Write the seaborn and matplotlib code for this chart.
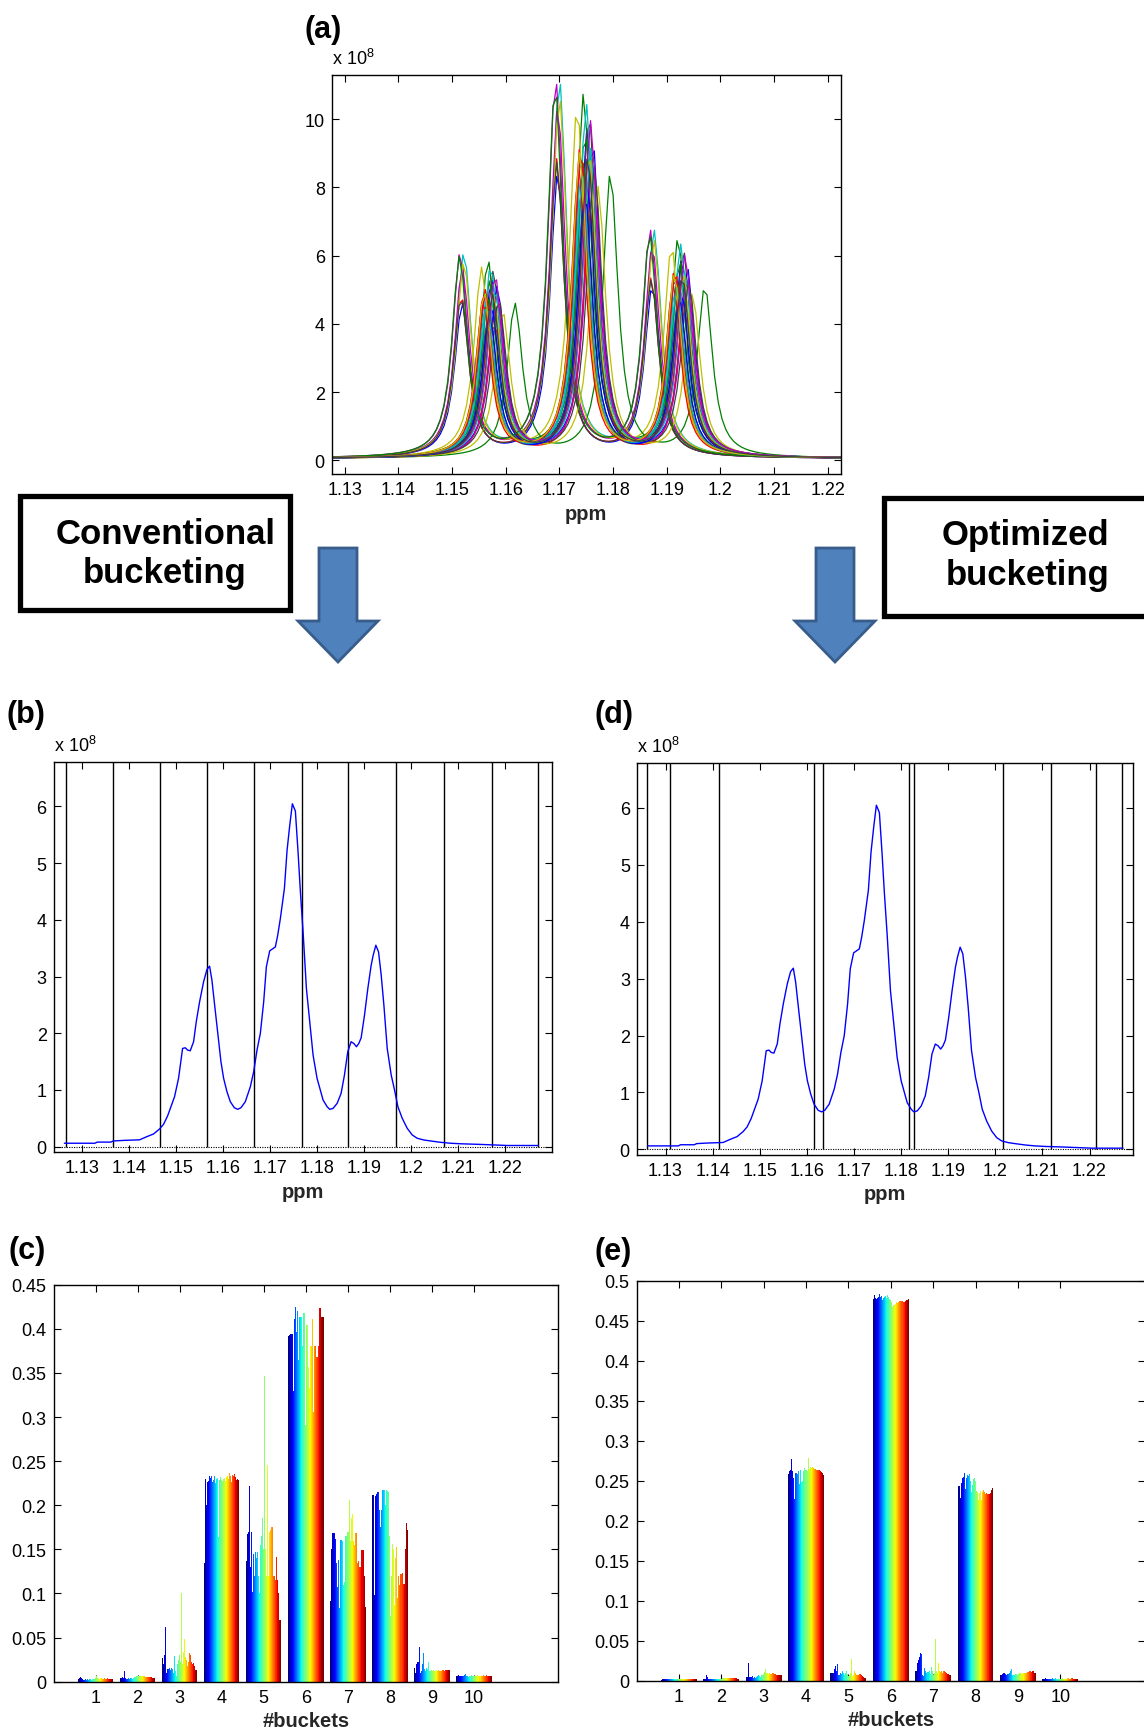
import numpy as np
import pandas as pd
import matplotlib
matplotlib.use("Agg")
import matplotlib.pyplot as plt
import seaborn as sns
from matplotlib.patches import Rectangle, Polygon

# ---------------------------------------------------------------- data
# (a) individual spectra: ppm of the middle line of each triplet and its height (x 1e8)
spec_centers = [1.1752, 1.1745, 1.1738, 1.1700, 1.1693, 1.1733, 1.1755, 1.1697, 1.1795, 1.1695,
                1.1742, 1.1697, 1.1700, 1.1695, 1.1762, 1.1748, 1.1757, 1.1750, 1.1762, 1.1772,
                1.1745, 1.1752, 1.1745, 1.1736, 1.1758, 1.1740, 1.1755, 1.1765, 1.1748, 1.1692,
                1.1740, 1.1743, 1.1758, 1.1738, 1.1753]
spec_heights = [9.6, 10.6, 9.0, 11.0, 11.0, 10.2, 10.0, 8.3, 8.3, 8.7,
                8.5, 10.2, 10.5, 8.6, 9.2, 9.5, 7.2, 10.3, 8.7, 7.9,
                7.4, 8.0, 8.6, 8.4, 9.0, 8.8, 8.9, 8.5, 7.6, 10.8,
                9.0, 8.2, 9.8, 8.9, 8.8]
triplet_offsets = [-0.0178, 0.0, 0.0176]
triplet_ratios = [0.54, 1.0, 0.60]
line_hwhm = 0.0017
spec_baseline = 0.05
line_colors = ["#0000FF", "#008000", "#FF0000", "#00BFBF", "#BF00BF", "#BFBF00", "#404040"]

# (b)/(d) mean spectrum (x 1e8)
mean_ppm = [1.1262, 1.1327, 1.1332, 1.1361, 1.1366, 1.1388, 1.1422,
            1.14376, 1.14518, 1.14646, 1.14731, 1.14817, 1.14966, 1.15051, 1.15137, 1.15194, 1.15243,
            1.1530, 1.15371, 1.15428, 1.15499, 1.15584, 1.15655, 1.15712, 1.15762, 1.15812, 1.15883,
            1.15954, 1.16011, 1.16082, 1.16153, 1.16238, 1.16310, 1.16381, 1.16473, 1.16580, 1.16651,
            1.16722, 1.16793, 1.16864, 1.16921, 1.16992, 1.17063, 1.17113, 1.17163, 1.17219, 1.17305,
            1.17362, 1.17419, 1.17475, 1.17539, 1.17596, 1.17646, 1.17703, 1.17774, 1.17845, 1.17916,
            1.18001, 1.18129, 1.18214, 1.18271, 1.18342, 1.18428, 1.18513, 1.18584, 1.18655, 1.18726,
            1.18783, 1.18840, 1.18890, 1.18940, 1.19011, 1.19082, 1.19153, 1.19196, 1.19253, 1.19310,
            1.19367, 1.19424, 1.19495, 1.19580, 1.19651, 1.19722, 1.19815, 1.19921, 1.20028, 1.20135,
            1.20277, 1.20419, 1.20632,
            1.2084, 1.2107, 1.2145, 1.2176, 1.2206, 1.2271]
mean_int = [0.06, 0.06, 0.08, 0.08, 0.10, 0.11, 0.12,
            0.176, 0.223, 0.311, 0.393, 0.540, 0.881, 1.204, 1.732, 1.744, 1.703,
            1.691, 1.850, 2.202, 2.554, 2.907, 3.124, 3.183, 2.936, 2.554, 2.026,
            1.497, 1.204, 0.969, 0.793, 0.687, 0.658, 0.687, 0.793, 1.057, 1.321,
            1.703, 1.998, 2.554, 3.171, 3.453, 3.494, 3.523, 3.729, 4.022, 4.551,
            5.226, 5.667, 6.048, 5.919, 5.197, 4.492, 3.787, 2.789, 2.202, 1.615,
            1.204, 0.822, 0.705, 0.658, 0.675, 0.763, 0.940, 1.262, 1.674, 1.850,
            1.820, 1.762, 1.820, 1.920, 2.319, 2.789, 3.200, 3.376, 3.553, 3.435,
            3.024, 2.496, 1.732, 1.262, 0.998, 0.705, 0.499, 0.323, 0.206, 0.147,
            0.117, 0.100, 0.076,
            0.06, 0.05, 0.04, 0.03, 0.02, 0.02]

# bucket boundaries (ppm)
conv_edges = [1.1265, 1.1365, 1.1465, 1.1565, 1.1666, 1.1767, 1.1867, 1.1969, 1.2070, 1.2172, 1.2270]
opt_edges = [1.1260, 1.1310, 1.1413, 1.1615, 1.1634, 1.1816, 1.1827, 1.2017, 1.2119, 1.2214, 1.2269]

bucket_ids = list(range(1, 11))

# (c) conventional buckets: normalised area per sample
conv_buckets = [
    [0.003, 0.004, 0.005, 0.004, 0.003, 0.002, 0.002, 0.003, 0.002, 0.003,
     0.002, 0.003, 0.003, 0.002, 0.003, 0.003, 0.003, 0.004, 0.006, 0.004,
     0.004, 0.003, 0.004, 0.004, 0.003, 0.003, 0.004, 0.003, 0.003, 0.004,
     0.003, 0.003, 0.003, 0.003, 0.003],
    [0.004, 0.004, 0.005, 0.004, 0.012, 0.004, 0.003, 0.003, 0.004, 0.003,
     0.004, 0.004, 0.003, 0.004, 0.005, 0.005, 0.006, 0.006, 0.007, 0.006,
     0.007, 0.006, 0.006, 0.006, 0.006, 0.005, 0.005, 0.005, 0.005, 0.005,
     0.005, 0.005, 0.004, 0.004, 0.004],
    [0.027, 0.020, 0.030, 0.062, 0.010, 0.014, 0.014, 0.015, 0.013, 0.015,
     0.014, 0.010, 0.029, 0.012, 0.007, 0.020, 0.025, 0.030, 0.022, 0.101,
     0.020, 0.034, 0.048, 0.028, 0.025, 0.018, 0.022, 0.033, 0.030, 0.022,
     0.020, 0.021, 0.018, 0.013, 0.013],
    [0.135, 0.230, 0.200, 0.226, 0.227, 0.233, 0.231, 0.233, 0.226, 0.229,
     0.233, 0.225, 0.230, 0.231, 0.164, 0.229, 0.232, 0.229, 0.228, 0.230,
     0.231, 0.228, 0.232, 0.233, 0.230, 0.237, 0.233, 0.226, 0.234, 0.233,
     0.235, 0.232, 0.229, 0.230, 0.229],
    [0.137, 0.167, 0.170, 0.222, 0.130, 0.170, 0.102, 0.145, 0.120, 0.147,
     0.140, 0.147, 0.120, 0.100, 0.155, 0.165, 0.185, 0.150, 0.346, 0.150,
     0.120, 0.246, 0.120, 0.170, 0.172, 0.175, 0.175, 0.120, 0.120, 0.115,
     0.141, 0.115, 0.100, 0.070, 0.070],
    [0.392, 0.393, 0.394, 0.394, 0.394, 0.330, 0.411, 0.425, 0.396, 0.420,
     0.365, 0.413, 0.413, 0.413, 0.380, 0.418, 0.418, 0.291, 0.404, 0.404,
     0.357, 0.333, 0.380, 0.380, 0.411, 0.306, 0.381, 0.381, 0.368, 0.368,
     0.381, 0.424, 0.424, 0.413, 0.413],
    [0.092, 0.150, 0.169, 0.169, 0.168, 0.162, 0.135, 0.107, 0.138, 0.084,
     0.161, 0.161, 0.160, 0.110, 0.113, 0.165, 0.165, 0.170, 0.170, 0.206,
     0.160, 0.185, 0.190, 0.160, 0.155, 0.168, 0.168, 0.135, 0.137, 0.130,
     0.130, 0.149, 0.149, 0.120, 0.085],
    [0.212, 0.212, 0.098, 0.210, 0.213, 0.215, 0.215, 0.195, 0.175, 0.195,
     0.217, 0.217, 0.217, 0.200, 0.217, 0.216, 0.215, 0.165, 0.075, 0.120,
     0.156, 0.150, 0.087, 0.140, 0.153, 0.095, 0.120, 0.110, 0.122, 0.123,
     0.111, 0.111, 0.150, 0.180, 0.172],
    [0.016, 0.010, 0.020, 0.022, 0.022, 0.039, 0.010, 0.012, 0.020, 0.033,
     0.014, 0.012, 0.015, 0.014, 0.022, 0.012, 0.012, 0.013, 0.012, 0.013,
     0.012, 0.012, 0.013, 0.012, 0.013, 0.012, 0.012, 0.013, 0.013, 0.012,
     0.013, 0.013, 0.013, 0.013, 0.013],
    [0.006, 0.007, 0.008, 0.006, 0.006, 0.006, 0.007, 0.006, 0.008, 0.009,
     0.007, 0.006, 0.005, 0.006, 0.007, 0.008, 0.007, 0.007, 0.006, 0.007,
     0.007, 0.008, 0.007, 0.007, 0.007, 0.007, 0.008, 0.007, 0.007, 0.008,
     0.007, 0.007, 0.007, 0.007, 0.007],
]

# (e) optimised buckets: normalised area per sample
opt_buckets = [
    [0.001, 0.002, 0.002, 0.003, 0.002, 0.002, 0.002, 0.002, 0.002, 0.002,
     0.002, 0.002, 0.002, 0.002, 0.002, 0.002, 0.002, 0.002, 0.003, 0.002,
     0.002, 0.002, 0.002, 0.002, 0.002, 0.002, 0.002, 0.003, 0.002, 0.002,
     0.002, 0.002, 0.002, 0.002, 0.002],
    [0.002, 0.003, 0.003, 0.007, 0.005, 0.002, 0.003, 0.003, 0.003, 0.003,
     0.003, 0.003, 0.003, 0.003, 0.003, 0.003, 0.003, 0.003, 0.004, 0.004,
     0.004, 0.004, 0.004, 0.004, 0.004, 0.004, 0.004, 0.004, 0.004, 0.004,
     0.004, 0.004, 0.004, 0.003, 0.003],
    [0.005, 0.005, 0.022, 0.005, 0.005, 0.005, 0.006, 0.004, 0.005, 0.004,
     0.005, 0.006, 0.007, 0.006, 0.005, 0.008, 0.008, 0.009, 0.011, 0.015,
     0.010, 0.010, 0.009, 0.010, 0.009, 0.009, 0.010, 0.010, 0.009, 0.009,
     0.008, 0.008, 0.008, 0.007, 0.007],
    [0.258, 0.262, 0.263, 0.277, 0.262, 0.254, 0.227, 0.260, 0.260, 0.259,
     0.262, 0.246, 0.264, 0.248, 0.250, 0.262, 0.266, 0.264, 0.262, 0.278,
     0.265, 0.267, 0.266, 0.267, 0.266, 0.265, 0.265, 0.264, 0.264, 0.263,
     0.263, 0.262, 0.261, 0.260, 0.257],
    [0.010, 0.010, 0.010, 0.015, 0.019, 0.012, 0.021, 0.007, 0.008, 0.010,
     0.009, 0.013, 0.010, 0.008, 0.010, 0.013, 0.009, 0.006, 0.008, 0.010,
     0.027, 0.006, 0.008, 0.013, 0.010, 0.008, 0.007, 0.008, 0.009, 0.009,
     0.007, 0.006, 0.005, 0.004, 0.004],
    [0.477, 0.482, 0.478, 0.477, 0.479, 0.480, 0.483, 0.480, 0.481, 0.476,
     0.479, 0.480, 0.481, 0.479, 0.482, 0.480, 0.477, 0.476, 0.474, 0.467,
     0.470, 0.470, 0.471, 0.473, 0.472, 0.473, 0.475, 0.475, 0.475, 0.474,
     0.473, 0.475, 0.476, 0.476, 0.477],
    [0.012, 0.012, 0.022, 0.026, 0.030, 0.035, 0.034, 0.008, 0.006, 0.016,
     0.012, 0.010, 0.011, 0.012, 0.009, 0.018, 0.012, 0.007, 0.010, 0.052,
     0.012, 0.010, 0.022, 0.012, 0.011, 0.012, 0.010, 0.013, 0.012, 0.011,
     0.010, 0.009, 0.009, 0.008, 0.007],
    [0.243, 0.243, 0.229, 0.247, 0.253, 0.255, 0.260, 0.240, 0.254, 0.257,
     0.256, 0.258, 0.250, 0.236, 0.245, 0.252, 0.253, 0.250, 0.237, 0.236,
     0.226, 0.235, 0.237, 0.226, 0.236, 0.238, 0.236, 0.234, 0.235, 0.234,
     0.233, 0.233, 0.235, 0.238, 0.241],
    [0.007, 0.008, 0.009, 0.010, 0.010, 0.009, 0.008, 0.009, 0.009, 0.010,
     0.012, 0.015, 0.007, 0.008, 0.008, 0.009, 0.009, 0.008, 0.009, 0.010,
     0.010, 0.009, 0.010, 0.010, 0.010, 0.010, 0.011, 0.011, 0.012, 0.012,
     0.011, 0.012, 0.012, 0.010, 0.010],
    [0.003, 0.003, 0.003, 0.004, 0.003, 0.003, 0.003, 0.003, 0.003, 0.004,
     0.003, 0.003, 0.004, 0.003, 0.003, 0.003, 0.003, 0.003, 0.003, 0.004,
     0.003, 0.003, 0.003, 0.003, 0.004, 0.004, 0.003, 0.003, 0.004, 0.004,
     0.003, 0.003, 0.003, 0.003, 0.003],
]

ppm_ticks = [1.13, 1.14, 1.15, 1.16, 1.17, 1.18, 1.19, 1.20, 1.21, 1.22]

# ---------------------------------------------------------------- style
sns.set_theme(style="ticks")
FONT = ["Liberation Sans", "DejaVu Sans"]
plt.rcParams.update({
    "font.family": FONT,
    "mathtext.fontset": "custom",
    "mathtext.rm": "Liberation Sans",
    "mathtext.it": "Liberation Sans:italic",
    "mathtext.bf": "Liberation Sans:bold",
    "axes.edgecolor": "black",
    "axes.linewidth": 1.0,
    "xtick.color": "black",
    "ytick.color": "black",
    "text.color": "black",
})

W, H = 1144, 1733
fig = plt.figure(figsize=(W / 100, H / 100), dpi=100)


def rect(left, top, right, bottom):
    return [left / W, 1 - bottom / H, (right - left) / W, (bottom - top) / H]


def fig_pt(x, y):
    return (x / W, 1 - y / H)


def style_axes(ax):
    ax.tick_params(direction="in", length=5, width=0.8, top=True, right=True,
                   labelsize=13, pad=5)
    for s in ax.spines.values():
        s.set_visible(True)
        s.set_linewidth(1.0)
        s.set_color("black")


def fmt(v):
    return f"{v:g}"


def exponent_label(ax):
    ax.annotate(r"x 10$^{8}$", xy=(0, 1), xycoords="axes fraction",
                xytext=(0, 5), textcoords="offset points",
                ha="left", va="bottom", fontsize=13)


ax_a = fig.add_axes(rect(331.8, 76, 840.7, 475))
ax_b = fig.add_axes(rect(53.6, 762.7, 551.8, 1153.3))
ax_d = fig.add_axes(rect(636.8, 764, 1132.9, 1156))
ax_c = fig.add_axes(rect(53.5, 1285.7, 558, 1682.7))
ax_e = fig.add_axes(rect(636.5, 1281.7, 1145, 1682))

# ---------------------------------------------------------------- (a) raw spectra
grid = np.arange(1.1268, 1.2232, 0.0007)
rows = []
for i, (c, h) in enumerate(zip(spec_centers, spec_heights)):
    y = np.full_like(grid, spec_baseline)
    for off, r in zip(triplet_offsets, triplet_ratios):
        y += h * r * line_hwhm ** 2 / ((grid - (c + off)) ** 2 + line_hwhm ** 2)
    rows.append(pd.DataFrame({"ppm": grid, "intensity": y, "spectrum": f"s{i:02d}"}))
spectra = pd.concat(rows, ignore_index=True)
names = [f"s{i:02d}" for i in range(len(spec_centers))]
palette_a = {n: line_colors[i % len(line_colors)] for i, n in enumerate(names)}
sns.lineplot(data=spectra, x="ppm", y="intensity", hue="spectrum", hue_order=names,
             palette=palette_a, estimator=None, lw=0.9, legend=False, ax=ax_a)
ax_a.set_xlim(1.1276, 1.2224)
ax_a.set_ylim(-0.4, 11.29)
ax_a.set_xticks(ppm_ticks)
ax_a.set_xticklabels([fmt(t) for t in ppm_ticks])
ax_a.set_yticks([0, 2, 4, 6, 8, 10])
ax_a.set_yticklabels(["0", "2", "4", "6", "8", "10"])
ax_a.set_xlabel("ppm", fontsize=14.5, fontweight="bold", labelpad=4)
ax_a.set_ylabel("")
style_axes(ax_a)
exponent_label(ax_a)

# ---------------------------------------------------------------- (b), (d) mean spectrum with buckets
for ax, edges, xr in ((ax_b, conv_edges, 1.2300), (ax_d, opt_edges, 1.2292)):
    ax.axhline(0, color="black", lw=0.8, ls=(0, (1, 1.2)), zorder=1)
    ax.vlines(edges, 0, 6.79, color="black", lw=1.0, zorder=2)
    sns.lineplot(x=mean_ppm, y=mean_int, color="#0000FF", lw=1.0, sort=False,
                 estimator=None, ax=ax, zorder=3)
    ax.set_xlim(1.1239, xr)
    ax.set_ylim(-0.1, 6.79)
    ax.set_xticks(ppm_ticks)
    ax.set_xticklabels([fmt(t) for t in ppm_ticks])
    ax.set_yticks(range(0, 7))
    ax.set_yticklabels([str(v) for v in range(0, 7)])
    ax.set_xlabel("ppm", fontsize=14.5, fontweight="bold", labelpad=4)
    ax.set_ylabel("")
    style_axes(ax)
    exponent_label(ax)

# ---------------------------------------------------------------- (c), (e) bucket tables
n_samples = len(conv_buckets[0])
sample_names = [f"p{i:02d}" for i in range(n_samples)]
jet = plt.get_cmap("jet")(np.linspace(0, 1, n_samples))
palette_bars = {n: jet[i] for i, n in enumerate(sample_names)}


def bucket_frame(values):
    rec = []
    for b, vals in zip(bucket_ids, values):
        for n, v in zip(sample_names, vals):
            rec.append((b, n, v))
    return pd.DataFrame(rec, columns=["bucket", "sample", "value"])


for ax, values, ymax in ((ax_c, conv_buckets, 0.45), (ax_e, opt_buckets, 0.5)):
    sns.barplot(data=bucket_frame(values), x="bucket", y="value", hue="sample",
                hue_order=sample_names, palette=palette_bars, native_scale=True,
                width=0.845, saturation=1, errorbar=None, linewidth=0,
                legend=False, ax=ax)
    ax.set_xlim(0, 12)
    ax.set_ylim(0, ymax)
    ax.set_xticks(bucket_ids)
    ax.set_xticklabels([str(b) for b in bucket_ids])
    yt = np.round(np.arange(0, ymax + 1e-9, 0.05), 2)
    ax.set_yticks(yt)
    ax.set_yticklabels([fmt(v) for v in yt])
    ax.set_xlabel("#buckets", fontsize=14.5, fontweight="bold", labelpad=4)
    ax.set_ylabel("")
    style_axes(ax)

# ---------------------------------------------------------------- panel letters
for lbl, x, y in (("(a)", 305, 30), ("(b)", 7, 715), ("(d)", 594, 715),
                  ("(c)", 8, 1251), ("(e)", 594, 1252)):
    fig.text(*fig_pt(x, y), lbl, fontsize=22, fontweight="bold", ha="left", va="center")

# ---------------------------------------------------------------- method boxes and arrows
for (l, t, r, b) in ((20, 497, 290, 611), (884, 499, 1160, 617)):
    fig.add_artist(Rectangle(fig_pt(l, b), (r - l) / W, (b - t) / H,
                             transform=fig.transFigure, facecolor="white",
                             edgecolor="black", linewidth=3.8))
for txt, x, y in (("Conventional", 166, 534), ("bucketing", 165, 574),
                  ("Optimized", 1025, 536), ("bucketing", 1028, 576)):
    fig.text(*fig_pt(x, y), txt, fontsize=25, fontweight="bold", ha="center", va="center")

for cx in (338, 835):
    pts = [(cx - 19, 549), (cx + 19, 549), (cx + 19, 622), (cx + 40, 622),
           (cx, 663), (cx - 40, 622), (cx - 19, 622)]
    fig.add_artist(Polygon([fig_pt(px, py) for px, py in pts], closed=True,
                           transform=fig.transFigure, facecolor="#4F81BD",
                           edgecolor="#385D8A", linewidth=2.0))

fig.savefig("out.png", dpi=100)
